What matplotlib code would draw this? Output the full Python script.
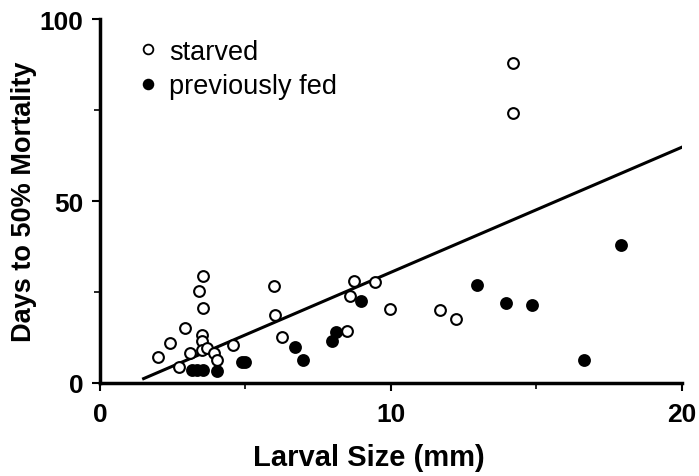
import matplotlib
matplotlib.use("Agg")
import matplotlib.pyplot as plt
from matplotlib.lines import Line2D

# starved larvae (open circles)
starved_x = [14.2, 14.2, 3.54, 3.41, 3.54, 2.91, 2.41, 2.0, 3.51, 3.51, 3.51, 3.1,
             3.68, 3.93, 4.02, 2.73, 4.58, 5.98, 6.0, 6.26, 8.48, 8.59, 8.74, 9.45,
             9.97, 11.67, 12.25]
starved_y = [87.8, 74.2, 29.5, 25.4, 20.6, 15.2, 11.1, 7.2, 13.2, 11.4, 9.1, 8.2,
             9.5, 8.2, 6.3, 4.5, 10.3, 26.6, 18.6, 12.7, 14.4, 24.0, 27.9, 27.7,
             20.3, 20.0, 17.6]

# previously fed larvae (filled circles)
fed_x = [3.15, 3.35, 3.55, 4.02, 4.87, 4.98, 6.69, 6.99, 7.99, 8.1, 8.97, 12.94,
         13.95, 14.85, 16.63, 17.9]
fed_y = [3.6, 3.6, 3.6, 3.4, 5.8, 5.8, 10.0, 6.3, 11.5, 14.0, 22.6, 26.8,
         22.0, 21.4, 6.3, 38.0]

# regression line endpoints
line_x = [1.5, 20.0]
line_y = [1.2, 64.8]

x_ticks = [0, 10, 20]
y_ticks = [0, 50, 100]
x_minor = [5, 15]
y_minor = [25, 75]

plt.rcParams['font.family'] = ['Liberation Sans', 'DejaVu Sans']

fig = plt.figure(figsize=(6.99, 4.77), dpi=100)
ax = fig.add_axes([0.143, 0.195, 0.8327, 0.763])

ax.plot(line_x, line_y, color='black', lw=2.2, zorder=2)
ax.scatter(starved_x, starved_y, s=60, facecolors='white', edgecolors='black',
           linewidths=1.5, zorder=3)
ax.scatter(fed_x, fed_y, s=60, facecolors='black', edgecolors='black',
           linewidths=1.5, zorder=4)

ax.set_xlim(0, 20)
ax.set_ylim(0, 100)
ax.spines['top'].set_visible(False)
ax.spines['right'].set_visible(False)
ax.spines['left'].set_linewidth(2.5)
ax.spines['bottom'].set_linewidth(2.5)

ax.set_xticks(x_ticks)
ax.set_yticks(y_ticks)
ax.set_xticks(x_minor, minor=True)
ax.set_yticks(y_minor, minor=True)
ax.tick_params(axis='both', which='major', direction='out', length=6, width=1.5,
               labelsize=19)
ax.tick_params(axis='x', which='major', pad=8)
ax.tick_params(axis='y', which='major', pad=6)
ax.tick_params(axis='both', which='minor', direction='out', length=4, width=1.2)
for lbl in ax.get_xticklabels() + ax.get_yticklabels():
    lbl.set_fontweight('bold')

ax.set_xlabel('Larval Size (mm)', fontsize=21, fontweight='bold')
ax.xaxis.set_label_coords(0.462, -0.165)
ax.set_ylabel('Days to 50% Mortality', fontsize=19.5, fontweight='bold', labelpad=2)

handles = [
    Line2D([], [], marker='o', linestyle='none', markersize=7, markerfacecolor='white',
           markeredgecolor='black', markeredgewidth=1.3, label='starved'),
    Line2D([], [], marker='o', linestyle='none', markersize=7, markerfacecolor='black',
           markeredgecolor='black', markeredgewidth=1.3, label='previously fed'),
]
ax.legend(handles=handles, loc='upper left', bbox_to_anchor=(0.04, 0.975), frameon=False,
          fontsize=19.5, handletextpad=0.3, labelspacing=0.3, handlelength=1.0,
          borderaxespad=0)

fig.savefig('out.png', dpi=100)
